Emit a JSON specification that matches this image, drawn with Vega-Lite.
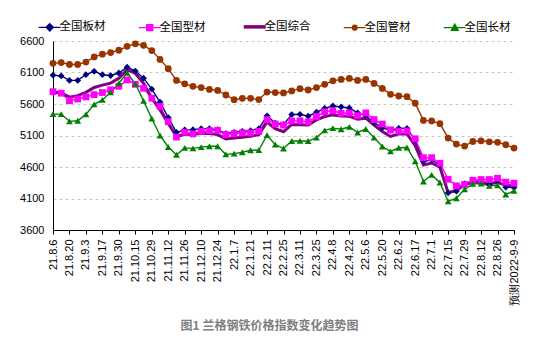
{
  "$schema": "https://vega.github.io/schema/vega-lite/v6.json",
  "autosize": {"type": "none"},
  "width": 461,
  "height": 189,
  "padding": {"left": 53, "top": 41, "right": 34, "bottom": 127},
  "background": "white",
  "config": {"view": {"stroke": null}},
  "title": {"text": "图1 兰格钢铁价格指数变化趋势图", "orient": "bottom", "anchor": "middle", "frame": "group", "dx": -14, "offset": 16, "fontSize": 12, "fontWeight": "bold", "color": "#808080", "font": "Noto Sans CJK SC"},
  "data": {"values": [
    {"date": "21.8.6", "全国板材": 6058, "全国型材": 5795, "全国综合": 5790, "全国管材": 6245, "全国长材": 5440},
    {"date": "21.8.13", "全国板材": 6045, "全国型材": 5771, "全国综合": 5775, "全国管材": 6258, "全国长材": 5440},
    {"date": "21.8.20", "全国板材": 5975, "全国型材": 5653, "全国综合": 5708, "全国管材": 6227, "全国长材": 5325},
    {"date": "21.8.27", "全国板材": 5975, "全国型材": 5680, "全国综合": 5733, "全国管材": 6227, "全国长材": 5335},
    {"date": "21.9.3", "全国板材": 6065, "全国型材": 5712, "全国综合": 5785, "全国管材": 6265, "全国长材": 5435},
    {"date": "21.9.10", "全国板材": 6118, "全国型材": 5748, "全国综合": 5862, "全国管材": 6348, "全国长材": 5595},
    {"date": "21.9.17", "全国板材": 6065, "全国型材": 5782, "全国综合": 5900, "全国管材": 6390, "全国长材": 5665},
    {"date": "21.9.24", "全国板材": 6052, "全国型材": 5826, "全国综合": 5932, "全国管材": 6416, "全国长材": 5785},
    {"date": "21.9.30", "全国板材": 6092, "全国型材": 5880, "全国综合": 6006, "全国管材": 6453, "全国长材": 5930},
    {"date": "21.10.8", "全国板材": 6185, "全国型材": 5982, "全国综合": 6145, "全国管材": 6516, "全国长材": 6095},
    {"date": "21.10.15", "全国板材": 6123, "全国型材": 5912, "全国综合": 6085, "全国管材": 6555, "全国长材": 5922},
    {"date": "21.10.22", "全国板材": 6010, "全国型材": 5849, "全国综合": 5928, "全国管材": 6532, "全国长材": 5650},
    {"date": "21.10.29", "全国板材": 5835, "全国型材": 5692, "全国综合": 5692, "全国管材": 6448, "全国长材": 5370},
    {"date": "21.11.5", "全国板材": 5630, "全国型材": 5561, "全国综合": 5508, "全国管材": 6308, "全国长材": 5100},
    {"date": "21.11.12", "全国板材": 5385, "全国型材": 5320, "全国综合": 5290, "全国管材": 6160, "全国长材": 4918},
    {"date": "21.11.19", "全国板材": 5150, "全国型材": 5075, "全国综合": 5088, "全国管材": 5975, "全国长材": 4795},
    {"date": "21.11.26", "全国板材": 5190, "全国型材": 5151, "全国综合": 5114, "全国管材": 5920, "全国长材": 4904},
    {"date": "21.12.3", "全国板材": 5193, "全国型材": 5125, "全国综合": 5120, "全国管材": 5880, "全国长材": 4895},
    {"date": "21.12.10", "全国板材": 5209, "全国型材": 5167, "全国综合": 5130, "全国管材": 5860, "全国长材": 4915},
    {"date": "21.12.17", "全国板材": 5209, "全国型材": 5177, "全国综合": 5130, "全国管材": 5832, "全国长材": 4930},
    {"date": "21.12.24", "全国板材": 5193, "全国型材": 5183, "全国综合": 5114, "全国管材": 5815, "全国长材": 4930},
    {"date": "21.12.31", "全国板材": 5130, "全国型材": 5114, "全国综合": 5046, "全国管材": 5743, "全国长材": 4800},
    {"date": "22.1.7", "全国板材": 5151, "全国型材": 5130, "全国综合": 5062, "全国管材": 5668, "全国长材": 4812},
    {"date": "22.1.14", "全国板材": 5167, "全国型材": 5141, "全国综合": 5072, "全国管材": 5690, "全国长材": 4835},
    {"date": "22.1.21", "全国板材": 5177, "全国型材": 5141, "全国综合": 5088, "全国管材": 5690, "全国长材": 4865},
    {"date": "22.1.28", "全国板材": 5209, "全国型材": 5167, "全国综合": 5114, "全国管材": 5670, "全国长材": 4867},
    {"date": "22.2.11", "全国板材": 5413, "全国型材": 5350, "全国综合": 5314, "全国管材": 5790, "全国长材": 5105},
    {"date": "22.2.18", "全国板材": 5298, "全国型材": 5282, "全国综合": 5209, "全国管材": 5782, "全国长材": 4955},
    {"date": "22.2.25", "全国板材": 5275, "全国型材": 5265, "全国综合": 5160, "全国管材": 5775, "全国长材": 4893},
    {"date": "22.3.4", "全国板材": 5432, "全国型材": 5332, "全国综合": 5275, "全国管材": 5808, "全国长材": 5012},
    {"date": "22.3.11", "全国板材": 5437, "全国型材": 5332, "全国综合": 5270, "全国管材": 5843, "全国长材": 5014},
    {"date": "22.3.18", "全国板材": 5406, "全国型材": 5317, "全国综合": 5268, "全国管材": 5822, "全国长材": 5012},
    {"date": "22.3.25", "全国板材": 5469, "全国型材": 5401, "全国综合": 5348, "全国管材": 5861, "全国长材": 5066},
    {"date": "22.4.1", "全国板材": 5532, "全国型材": 5475, "全国综合": 5401, "全国管材": 5913, "全国长材": 5182},
    {"date": "22.4.8", "全国板材": 5569, "全国型材": 5493, "全国综合": 5427, "全国管材": 5968, "全国长材": 5217},
    {"date": "22.4.15", "全国板材": 5553, "全国型材": 5453, "全国综合": 5409, "全国管材": 5990, "全国长材": 5200},
    {"date": "22.4.22", "全国板材": 5537, "全国型材": 5458, "全国综合": 5406, "全国管材": 6006, "全国长材": 5237},
    {"date": "22.4.29", "全国板材": 5458, "全国型材": 5414, "全国综合": 5360, "全国管材": 5974, "全国长材": 5148},
    {"date": "22.5.6", "全国板材": 5414, "全国型材": 5458, "全国综合": 5375, "全国管材": 5990, "全国长材": 5203},
    {"date": "22.5.13", "全国板材": 5306, "全国型材": 5353, "全国综合": 5264, "全国管材": 5927, "全国长材": 5067},
    {"date": "22.5.20", "全国板材": 5222, "全国型材": 5282, "全国综合": 5164, "全国管材": 5848, "全国长材": 4925},
    {"date": "22.5.27", "全国板材": 5183, "全国型材": 5190, "全国综合": 5085, "全国管材": 5753, "全国长材": 4848},
    {"date": "22.6.2", "全国板材": 5214, "全国型材": 5169, "全国综合": 5125, "全国管材": 5727, "全国长材": 4905},
    {"date": "22.6.10", "全国板材": 5213, "全国型材": 5172, "全国综合": 5125, "全国管材": 5717, "全国长材": 4910},
    {"date": "22.6.17", "全国板材": 5022, "全国型材": 5048, "全国综合": 4940, "全国管材": 5612, "全国长材": 4690},
    {"date": "22.6.24", "全国板材": 4690, "全国型材": 4748, "全国综合": 4632, "全国管材": 5340, "全国长材": 4370},
    {"date": "22.7.1", "全国板材": 4716, "全国型材": 4748, "全国综合": 4664, "全国管材": 5332, "全国长材": 4475},
    {"date": "22.7.8", "全国板材": 4625, "全国型材": 4659, "全国综合": 4598, "全国管材": 5288, "全国长材": 4354},
    {"date": "22.7.15", "全国板材": 4191, "全国型材": 4406, "全国综合": 4191, "全国管材": 5059, "全国长材": 4054},
    {"date": "22.7.22", "全国板材": 4217, "全国型材": 4301, "全国综合": 4230, "全国管材": 4964, "全国长材": 4104},
    {"date": "22.7.29", "全国板材": 4335, "全国型材": 4322, "全国综合": 4315, "全国管材": 4932, "全国长材": 4246},
    {"date": "22.8.5", "全国板材": 4367, "全国型材": 4390, "全国综合": 4361, "全国管材": 5005, "全国长材": 4332},
    {"date": "22.8.12", "全国板材": 4375, "全国型材": 4401, "全国综合": 4360, "全国管材": 5016, "全国长材": 4338},
    {"date": "22.8.19", "全国板材": 4328, "全国型材": 4401, "全国综合": 4336, "全国管材": 5000, "全国长材": 4301},
    {"date": "22.8.26", "全国板材": 4383, "全国型材": 4422, "全国综合": 4355, "全国管材": 4992, "全国长材": 4309},
    {"date": "22.9.2", "全国板材": 4280, "全国型材": 4360, "全国综合": 4309, "全国管材": 4953, "全国长材": 4164},
    {"date": "预测2022-9-9", "全国板材": 4274, "全国型材": 4343, "全国综合": 4301, "全国管材": 4901, "全国长材": 4222}
  ]},
  "transform": [
    {"fold": ["全国板材", "全国型材", "全国综合", "全国管材", "全国长材"], "as": ["s", "v"]}
  ],
  "encoding": {
    "x": {
      "field": "date", "type": "ordinal", "sort": null,
      "scale": {"type": "point", "padding": 0},
      "axis": {
        "title": null,
        "values": ["21.8.6", "21.8.20", "21.9.3", "21.9.17", "21.9.30", "21.10.15", "21.10.29", "21.11.12", "21.11.26", "21.12.10", "21.12.24", "22.1.7", "22.1.21", "22.2.11", "22.2.25", "22.3.11", "22.3.25", "22.4.8", "22.4.22", "22.5.6", "22.5.20", "22.6.2", "22.6.17", "22.7.1", "22.7.15", "22.7.29", "22.8.12", "22.8.26", "预测2022-9-9"],
        "labelAngle": 270,
        "labelFont": "Liberation Sans",
        "labelFontSize": 11,
        "labelColor": "#000000",
        "labelPadding": 5,
        "tickSize": 4,
        "tickColor": "#000000",
        "domainColor": "#000000",
        "domainWidth": 1,
        "grid": false,
        "labelOverlap": false
      }
    },
    "y": {
      "field": "v", "type": "quantitative",
      "scale": {"domain": [3600, 6600], "nice": false, "zero": false},
      "axis": {
        "title": null,
        "values": [3600, 4100, 4600, 5100, 5600, 6100, 6600],
        "format": "d",
        "ticks": false,
        "labelPadding": 9,
        "labelFont": "Liberation Sans",
        "labelFontSize": 11,
        "labelColor": "#000000",
        "domainColor": "#000000",
        "domainWidth": 1,
        "grid": true,
        "gridColor": "#c8c8c8",
        "gridDash": [3, 3],
        "gridWidth": 1
      }
    },
    "color": {
      "field": "s", "type": "nominal",
      "scale": {"domain": ["全国板材", "全国型材", "全国综合", "全国管材", "全国长材"], "range": ["#000080", "#ff00ff", "#800080", "#993300", "#008000"]},
      "legend": {
        "orient": "none", "legendX": -9, "legendY": -20, "direction": "horizontal", "title": null,
        "symbolSize": 484, "labelFont": "Noto Sans CJK SC", "labelFontSize": 11.5, "labelColor": "#000000",
        "labelOffset": 4, "columnPadding": 30, "padding": 0,
        "encode": {"symbols": {"update": {
          "shape": {"signal": "['M-1,0H1M0,-0.34L0.34,0L0,0.34L-0.34,0Z','M-1,0H1M-0.28,-0.28H0.28V0.28H-0.28Z','M-1,0H1','M-1,0H1M-0.22,0A0.22,0.22 0 1,0 0.22,0A0.22,0.22 0 1,0 -0.22,0Z','M-1,0H1M0,-0.32L0.32,0.26H-0.32Z'][indexof(['全国板材','全国型材','全国综合','全国管材','全国长材'], datum.value)]"},
          "fill": {"signal": "scale('color', datum.value)"},
          "stroke": {"signal": "scale('color', datum.value)"},
          "strokeWidth": {"signal": "datum.value == '全国综合' ? 3.5 : 1.2"},
          "opacity": {"value": 1}
        }}}
      }
    }
  },
  "layer": [
    {
      "transform": [{"filter": "datum.s != '全国综合'"}],
      "mark": {"type": "line", "strokeWidth": 1.4}
    },
    {
      "transform": [{"filter": "datum.s == '全国综合'"}],
      "mark": {"type": "line", "strokeWidth": 3}
    },
    {
      "transform": [{"filter": "datum.s != '全国综合'"}],
      "mark": {"type": "point", "filled": true, "size": 46, "opacity": 1},
      "encoding": {
        "shape": {
          "field": "s", "type": "nominal",
          "scale": {"domain": ["全国板材", "全国型材", "全国管材", "全国长材"], "range": ["diamond", "square", "circle", "triangle-up"]},
          "legend": null
        }
      }
    }
  ]
}
